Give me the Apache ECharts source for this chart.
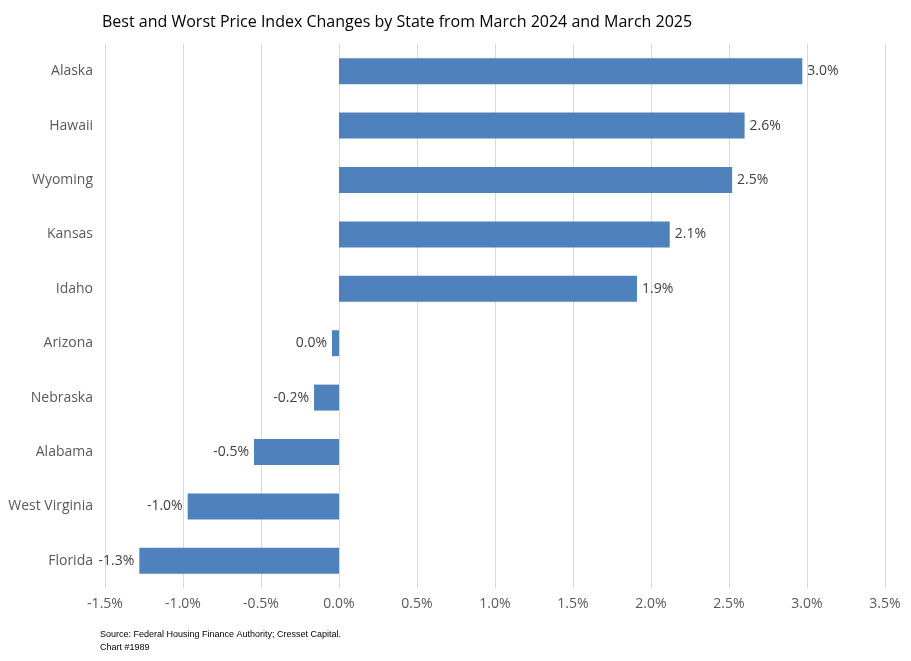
<!DOCTYPE html>
<html>
<head>
<meta charset="utf-8">
<script src="https://cdn.jsdelivr.net/npm/echarts@6/dist/echarts.min.js"></script>
<style>html,body{margin:0;padding:0;background:#fff}#chart{width:911px;height:661px}</style>
</head>
<body>
<div id="chart"></div>
<script>
// 各州数据（从上到下）
var states = ['Alaska', 'Hawaii', 'Wyoming', 'Kansas', 'Idaho', 'Arizona', 'Nebraska', 'Alabama', 'West Virginia', 'Florida'];
var changes = [2.97, 2.60, 2.52, 2.12, 1.91, -0.045, -0.16, -0.545, -0.97, -1.28];
var labels = ['3.0%', '2.6%', '2.5%', '2.1%', '1.9%', '0.0%', '-0.2%', '-0.5%', '-1.0%', '-1.3%'];

var myChart = echarts.init(document.getElementById('chart'));

var option = {
  animation: false,
  title: [{
    text: 'Best and Worst Price Index Changes by State from March 2024 and March 2025',
    left: 97, top: 9,
    textStyle: {fontFamily: 'Open Sans', fontSize: 16, fontWeight: 'normal', color: '#000'}
  }, {
    text: 'Source: Federal Housing Finance Authority; Cresset Capital.\nChart #1989',
    left: 95, top: 623,
    textStyle: {fontFamily: 'Liberation Sans', fontSize: 9, fontWeight: 'normal', color: '#000', lineHeight: 13}
  }],
  grid: {left: 105, right: 26, top: 44, bottom: 73},
  xAxis: {
    type: 'value',
    min: -1.5, max: 3.5, interval: 0.5,
    axisLabel: {
      color: '#595959', fontFamily: 'Open Sans', fontSize: 14, margin: 9,
      formatter: function (v) { return v.toFixed(1) + '%'; }
    },
    axisLine: {show: false},
    axisTick: {show: false},
    splitLine: {lineStyle: {color: '#d9d9d9'}}
  },
  yAxis: {
    type: 'category',
    inverse: true,
    data: states,
    axisLabel: {color: '#595959', fontFamily: 'Open Sans', fontSize: 14, margin: 12},
    axisLine: {show: false},
    axisTick: {show: false}
  },
  series: [{
    type: 'bar',
    data: changes.map(function (v) {
      return {value: v, label: {position: v < 0 ? 'left' : 'right'}};
    }),
    barWidth: 26,
    itemStyle: {color: '#4f81bd'},
    label: {
      show: true,
      color: '#404040', fontFamily: 'Open Sans', fontSize: 14, distance: 5,
      formatter: function (p) { return labels[p.dataIndex]; }
    }
  }]
};

myChart.setOption(option);
</script>
</body>
</html>
